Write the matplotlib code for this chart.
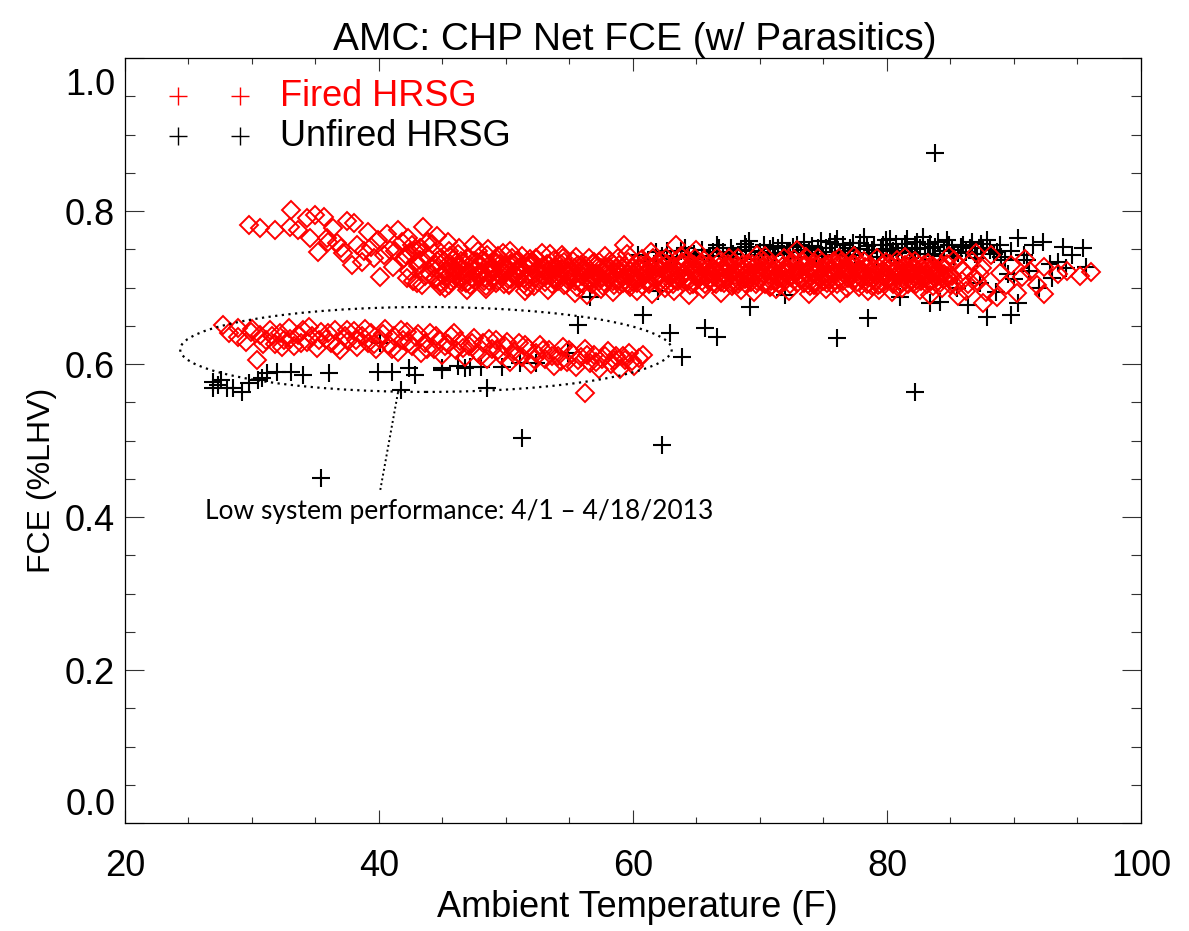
import matplotlib
matplotlib.use("Agg")
import matplotlib.pyplot as plt
from matplotlib.patches import Ellipse
from matplotlib.ticker import MultipleLocator

plt.rcParams["font.family"] = ["Liberation Sans", "DejaVu Sans"]

# ---- Fired HRSG: sparse edges of the main band (cold start-up and hot end)
fired_edge_temp = [
    29.8, 30.6, 31.8, 33.1, 33.0, 33.6, 34.3, 35.0, 35.7, 34.6, 35.2, 35.9, 36.7, 37.5,
    38.0, 36.4, 37.2, 37.9, 38.7, 39.1, 39.9, 40.1, 39.4, 40.9, 41.1, 41.5, 42.2, 43.5,
    44.6, 43.0, 36.0, 37.0, 38.3, 38.8, 40.4, 40.6, 39.6, 41.8, 42.5, 42.0, 43.2, 41.3,
    87.6, 88.2, 88.7, 88.9, 89.4, 90.2, 89.8, 90.6, 91.3, 91.8, 92.4, 92.4, 93.5, 94.2,
    95.2, 96.1, 90.9, 87.0,
]
fired_edge_fce = [
    0.782, 0.778, 0.775, 0.801, 0.779, 0.775, 0.791, 0.795, 0.792, 0.765, 0.746, 0.765, 0.758, 0.787,
    0.784, 0.778, 0.745, 0.729, 0.733, 0.773, 0.762, 0.714, 0.753, 0.749, 0.727, 0.775, 0.712, 0.779,
    0.767, 0.706, 0.760, 0.752, 0.756, 0.748, 0.742, 0.770, 0.738, 0.760, 0.745, 0.738, 0.752, 0.748,
    0.680, 0.742, 0.688, 0.719, 0.703, 0.693, 0.730, 0.714, 0.722, 0.703, 0.692, 0.727, 0.718, 0.722,
    0.715, 0.720, 0.737, 0.745,
]

# ---- Fired HRSG: main operating band
fired_band_temp = [
    42.1, 42.4, 42.6, 42.9, 42.3, 42.7, 42.8,
    43.1, 43.3, 43.6, 43.8, 43.4, 43.9, 43.2,
    44.0, 44.3, 44.5, 44.8, 44.2, 44.6, 44.9, 44.4,
    45.1, 45.3, 45.5, 45.8, 45.2, 45.6, 45.9, 45.4,
    46.0, 46.2, 46.5, 46.7, 46.3, 46.8, 46.4, 46.9,
    47.1, 47.3, 47.6, 47.8, 47.2, 47.5, 47.9, 47.4,
    48.0, 48.3, 48.5, 48.7, 48.2, 48.8, 48.4, 48.6,
    49.1, 49.3, 49.6, 49.8, 49.2, 49.5, 49.9, 49.4,
    50.0, 50.2, 50.5, 50.7, 50.3, 50.8, 50.4, 50.9,
    51.1, 51.3, 51.6, 51.8, 51.2, 51.5, 51.9, 51.4,
    52.0, 52.3, 52.5, 52.8, 52.2, 52.6, 52.9, 52.4,
    53.1, 53.4, 53.6, 53.8, 53.2, 53.5, 53.9, 53.3,
    54.0, 54.2, 54.5, 54.7, 54.3, 54.8, 54.4, 54.9,
    55.1, 55.3, 55.6, 55.8, 55.2, 55.5, 55.9, 55.4,
    56.0, 56.3, 56.5, 56.8, 56.2, 56.6, 56.9, 56.4,
    57.1, 57.3, 57.6, 57.8, 57.2, 57.5, 57.9, 57.4,
    58.0, 58.2, 58.5, 58.7, 58.3, 58.8, 58.4, 58.9,
    59.1, 59.4, 59.6, 59.8, 59.2, 59.5, 59.9, 59.3,
    60.0, 60.2, 60.5, 60.7, 60.3, 60.8, 60.4, 60.9,
    61.1, 61.3, 61.6, 61.8, 61.2, 61.5, 61.9, 61.4,
    62.0, 62.3, 62.5, 62.8, 62.2, 62.6, 62.9, 62.4,
    63.1, 63.3, 63.6, 63.8, 63.2, 63.5, 63.9, 63.4,
    64.0, 64.2, 64.5, 64.7, 64.3, 64.8, 64.4, 64.9,
    65.1, 65.4, 65.6, 65.8, 65.2, 65.5, 65.9, 65.0,
    66.0, 66.3, 66.5, 66.8, 66.2, 66.6, 66.9, 66.4,
    67.1, 67.3, 67.6, 67.8, 67.2, 67.5, 67.9, 67.4,
    68.0, 68.2, 68.5, 68.7, 68.3, 68.8, 68.4, 68.9,
    69.1, 69.3, 69.6, 69.8, 69.2, 69.5, 69.9, 69.4,
    70.0, 70.3, 70.5, 70.8, 70.2, 70.6, 70.9, 70.4,
    71.1, 71.3, 71.6, 71.8, 71.2, 71.5, 71.9, 71.4,
    72.0, 72.2, 72.5, 72.7, 72.3, 72.8, 72.4, 72.9,
    73.1, 73.4, 73.6, 73.8, 73.2, 73.5, 73.9, 73.3,
    74.0, 74.3, 74.5, 74.8, 74.2, 74.6, 74.9, 74.4,
    75.1, 75.3, 75.6, 75.8, 75.2, 75.5, 75.9, 75.4,
    76.0, 76.2, 76.5, 76.7, 76.3, 76.8, 76.4, 76.9,
    77.1, 77.3, 77.6, 77.8, 77.2, 77.5, 77.9, 77.4,
    78.0, 78.3, 78.5, 78.8, 78.2, 78.6, 78.9, 78.4,
    79.1, 79.3, 79.6, 79.8, 79.2, 79.5, 79.9, 79.4,
    80.0, 80.2, 80.5, 80.7, 80.3, 80.8, 80.4, 80.9,
    81.1, 81.3, 81.6, 81.8, 81.2, 81.5, 81.9, 81.4,
    82.0, 82.3, 82.5, 82.8, 82.2, 82.6, 82.9, 82.4,
    83.1, 83.3, 83.6, 83.8, 83.2, 83.5, 83.9, 83.4,
    84.0, 84.2, 84.5, 84.7, 84.3, 84.8, 84.4, 84.9,
    85.1, 85.4, 85.7, 85.3, 85.9, 85.6,
    86.0, 86.4, 86.7, 86.2, 86.9,
    87.1, 87.5, 87.8, 87.3,
]
fired_band_fce = [
    0.742, 0.721, 0.756, 0.733, 0.765, 0.708, 0.748,
    0.728, 0.752, 0.715, 0.741, 0.703, 0.760, 0.736,
    0.718, 0.745, 0.730, 0.702, 0.757, 0.724, 0.738, 0.711,
    0.735, 0.712, 0.748, 0.726, 0.700, 0.741, 0.718, 0.759,
    0.722, 0.744, 0.707, 0.733, 0.751, 0.716, 0.728, 0.697,
    0.739, 0.713, 0.726, 0.748, 0.703, 0.735, 0.719, 0.755,
    0.729, 0.708, 0.742, 0.717, 0.736, 0.724, 0.698, 0.750,
    0.714, 0.737, 0.722, 0.745, 0.706, 0.731, 0.719, 0.741,
    0.727, 0.703, 0.739, 0.716, 0.748, 0.723, 0.711, 0.734,
    0.718, 0.741, 0.709, 0.730, 0.724, 0.696, 0.737, 0.713,
    0.733, 0.712, 0.725, 0.745, 0.702, 0.719, 0.728, 0.738,
    0.707, 0.729, 0.716, 0.736, 0.722, 0.744, 0.711, 0.697,
    0.726, 0.714, 0.738, 0.705, 0.731, 0.720, 0.742, 0.710,
    0.719, 0.734, 0.701, 0.725, 0.712, 0.740, 0.729, 0.693,
    0.715, 0.728, 0.739, 0.704, 0.721, 0.711, 0.733, 0.690,
    0.730, 0.708, 0.722, 0.741, 0.716, 0.698, 0.727, 0.713,
    0.712, 0.735, 0.703, 0.724, 0.718, 0.738, 0.694, 0.729,
    0.726, 0.710, 0.733, 0.701, 0.719, 0.744, 0.714, 0.755,
    0.707, 0.731, 0.716, 0.737, 0.696, 0.723, 0.711, 0.728,
    0.721, 0.704, 0.738, 0.715, 0.729, 0.692, 0.725, 0.746,
    0.713, 0.734, 0.699, 0.722, 0.708, 0.739, 0.717, 0.727,
    0.728, 0.710, 0.720, 0.741, 0.695, 0.716, 0.732, 0.755,
    0.717, 0.735, 0.703, 0.724, 0.712, 0.729, 0.690, 0.738,
    0.722, 0.708, 0.736, 0.715, 0.729, 0.698, 0.719, 0.749,
    0.711, 0.726, 0.704, 0.733, 0.718, 0.740, 0.693, 0.721,
    0.725, 0.713, 0.738, 0.702, 0.719, 0.731, 0.709, 0.727,
    0.716, 0.730, 0.697, 0.723, 0.739, 0.711, 0.726, 0.705,
    0.729, 0.707, 0.720, 0.742, 0.714, 0.694, 0.733, 0.718,
    0.712, 0.735, 0.724, 0.701, 0.718, 0.730, 0.708, 0.741,
    0.721, 0.698, 0.733, 0.715, 0.727, 0.706, 0.739, 0.712,
    0.709, 0.726, 0.716, 0.737, 0.696, 0.722, 0.731, 0.749,
    0.723, 0.711, 0.740, 0.704, 0.717, 0.729, 0.692, 0.734,
    0.714, 0.732, 0.702, 0.725, 0.719, 0.738, 0.709, 0.727,
    0.728, 0.706, 0.721, 0.735, 0.698, 0.716, 0.731, 0.711,
    0.717, 0.739, 0.708, 0.726, 0.693, 0.722, 0.733, 0.713,
    0.724, 0.710, 0.736, 0.701, 0.718, 0.729, 0.714, 0.741,
    0.711, 0.727, 0.696, 0.720, 0.734, 0.706, 0.725, 0.716,
    0.722, 0.703, 0.730, 0.714, 0.738, 0.708, 0.719, 0.697,
    0.716, 0.731, 0.705, 0.723, 0.712, 0.736, 0.694, 0.727,
    0.707, 0.725, 0.718, 0.733, 0.699, 0.721, 0.711, 0.740,
    0.719, 0.704, 0.729, 0.713, 0.735, 0.697, 0.722, 0.710,
    0.712, 0.727, 0.702, 0.720, 0.732, 0.708, 0.716, 0.690,
    0.723, 0.706, 0.717, 0.731, 0.699, 0.713, 0.726, 0.741,
    0.715, 0.702, 0.728, 0.736, 0.709, 0.689,
    0.721, 0.705, 0.734, 0.696, 0.713,
    0.708, 0.726, 0.694, 0.717,
]

# ---- Fired HRSG: extra readings in the middle of the band
fired_core_temp = [
    44.15, 44.45, 44.60, 44.85, 45.20, 45.35, 45.70, 45.90,
    46.10, 46.45, 46.65, 46.85, 47.15, 47.40, 47.70, 47.95,
    48.10, 48.35, 48.65, 48.90, 49.20, 49.45, 49.60, 49.85,
    50.15, 50.35, 50.65, 50.95, 51.10, 51.45, 51.70, 51.85,
    52.15, 52.40, 52.70, 52.95, 53.20, 53.45, 53.65, 53.90,
    54.10, 54.35, 54.60, 54.85, 55.15, 55.45, 55.70, 55.95,
    56.10, 56.40, 56.65, 56.85, 57.20, 57.35, 57.70, 57.90,
    58.15, 58.45, 58.60, 58.95, 59.10, 59.40, 59.70, 59.85,
    60.15, 60.35, 60.65, 60.90, 61.20, 61.45, 61.70, 61.95,
    62.10, 62.40, 62.65, 62.85, 63.15, 63.45, 63.70, 63.90,
    64.20, 64.35, 64.60, 64.95, 65.15, 65.30, 65.70, 65.85,
    66.10, 66.45, 66.65, 66.90, 67.15, 67.40, 67.70, 67.95,
    68.10, 68.35, 68.60, 68.85, 69.20, 69.45, 69.65, 69.90,
    70.15, 70.40, 70.70, 70.95, 71.10, 71.35, 71.65, 71.85,
    72.15, 72.45, 72.60, 72.90, 73.20, 73.35, 73.70, 73.95,
    74.10, 74.40, 74.65, 74.85, 75.15, 75.45, 75.70, 75.90,
    76.10, 76.35, 76.60, 76.95, 77.20, 77.45, 77.65, 77.85,
    78.15, 78.40, 78.70, 78.95, 79.10, 79.35, 79.70, 79.90,
    80.15, 80.45, 80.60, 80.85, 81.20, 81.40, 81.65, 81.95,
    82.10, 82.35, 82.70, 82.90, 83.15, 83.45, 83.65, 83.85,
    84.20, 84.40, 84.60, 84.95,
    45.05, 45.55, 45.75, 46.25, 46.55, 46.95, 47.05, 47.45, 47.85,
    48.25, 48.45, 48.75, 49.05, 49.35, 49.75, 50.25, 50.55, 50.85,
    51.05, 51.35, 51.65, 52.05, 52.55, 52.85, 53.05, 53.55, 53.75,
    54.25, 54.55, 54.95, 55.05, 55.35, 55.85, 56.25, 56.55, 56.75,
    57.05, 57.45, 57.65, 58.05, 58.35, 58.75, 59.25, 59.55, 59.95,
    60.05, 60.45, 60.75, 61.05, 61.35, 61.75, 62.25, 62.55, 62.95,
    63.05, 63.55, 63.85, 64.05, 64.45, 64.75, 65.25, 65.45, 65.95,
    66.05, 66.35, 66.75, 67.05, 67.55, 67.85, 68.25, 68.45, 68.95,
    69.05, 69.35, 69.75, 70.05, 70.55, 70.85, 71.25, 71.55, 71.95,
    72.05, 72.35, 72.75, 73.05, 73.45, 73.85, 74.25, 74.55, 74.95,
    75.05, 75.35, 75.75, 76.25, 76.45, 76.85, 77.05, 77.35, 77.75,
    78.05, 78.55, 78.85, 79.05, 79.45, 79.75, 80.05, 80.35, 80.75,
    81.05, 81.45, 81.75, 82.05, 82.45, 82.75, 83.05, 83.35, 83.75,
    84.05, 84.35, 84.75,
]
fired_core_fce = [
    0.726, 0.713, 0.734, 0.707, 0.721, 0.730, 0.709, 0.737,
    0.714, 0.735, 0.722, 0.706, 0.729, 0.711, 0.733, 0.718,
    0.720, 0.734, 0.708, 0.727, 0.733, 0.716, 0.725, 0.704,
    0.711, 0.729, 0.719, 0.736, 0.727, 0.705, 0.733, 0.716,
    0.716, 0.737, 0.710, 0.723, 0.731, 0.718, 0.704, 0.726,
    0.709, 0.724, 0.733, 0.715, 0.722, 0.708, 0.729, 0.716,
    0.705, 0.721, 0.712, 0.731, 0.718, 0.733, 0.707, 0.724,
    0.727, 0.709, 0.720, 0.703, 0.713, 0.728, 0.705, 0.722,
    0.721, 0.706, 0.729, 0.715, 0.708, 0.724, 0.713, 0.733,
    0.726, 0.711, 0.731, 0.704, 0.705, 0.723, 0.714, 0.728,
    0.722, 0.708, 0.730, 0.716, 0.711, 0.727, 0.705, 0.723,
    0.729, 0.714, 0.722, 0.707, 0.706, 0.721, 0.716, 0.733,
    0.723, 0.709, 0.730, 0.718, 0.712, 0.726, 0.704, 0.722,
    0.727, 0.705, 0.717, 0.731, 0.709, 0.724, 0.712, 0.728,
    0.720, 0.714, 0.732, 0.706, 0.711, 0.728, 0.719, 0.702,
    0.725, 0.707, 0.715, 0.733, 0.716, 0.723, 0.704, 0.727,
    0.704, 0.729, 0.717, 0.721, 0.728, 0.711, 0.707, 0.723,
    0.719, 0.705, 0.729, 0.712, 0.710, 0.726, 0.716, 0.733,
    0.724, 0.709, 0.720, 0.701, 0.713, 0.730, 0.705, 0.726,
    0.726, 0.716, 0.708, 0.730, 0.705, 0.723, 0.728, 0.713,
    0.718, 0.711, 0.724, 0.704,
    0.716, 0.703, 0.728, 0.727, 0.711, 0.719, 0.707, 0.722, 0.714,
    0.713, 0.702, 0.731, 0.722, 0.709, 0.728, 0.705, 0.732, 0.714,
    0.712, 0.722, 0.701, 0.729, 0.707, 0.717, 0.714, 0.724, 0.710,
    0.718, 0.703, 0.727, 0.711, 0.725, 0.706, 0.724, 0.707, 0.717,
    0.711, 0.726, 0.702, 0.718, 0.732, 0.710, 0.706, 0.717, 0.725,
    0.713, 0.724, 0.703, 0.718, 0.707, 0.728, 0.705, 0.720, 0.714,
    0.719, 0.708, 0.733, 0.710, 0.726, 0.704, 0.716, 0.732, 0.709,
    0.720, 0.706, 0.727, 0.713, 0.727, 0.704, 0.704, 0.716, 0.731,
    0.719, 0.731, 0.709, 0.715, 0.722, 0.702, 0.716, 0.703, 0.720,
    0.727, 0.705, 0.717, 0.716, 0.706, 0.724, 0.703, 0.720, 0.716,
    0.709, 0.731, 0.719, 0.711, 0.724, 0.700, 0.716, 0.731, 0.720,
    0.723, 0.714, 0.702, 0.716, 0.704, 0.721, 0.713, 0.727, 0.716,
    0.719, 0.709, 0.723, 0.706, 0.722, 0.715, 0.718, 0.710, 0.724,
    0.709, 0.729, 0.715,
]

# ---- Fired HRSG: low performance period, 4/1 - 4/18/2013
fired_low_temp = [
    27.7, 28.2, 28.9, 28.9, 29.5, 29.9, 30.4, 30.6, 31.1, 31.4,
    31.8, 32.2, 32.5, 32.9, 33.3, 33.6, 34.0, 34.3, 34.7, 35.1,
    35.4, 35.8, 36.2, 36.5, 36.9, 37.3, 37.6, 38.0, 38.3, 38.7,
    39.1, 39.4, 39.8, 40.1, 40.5, 40.8, 41.2, 41.5, 41.9, 42.2,
    42.6, 42.9, 43.3, 43.6, 44.0, 44.3, 44.7, 45.0, 45.4, 45.7,
    46.1, 46.4, 46.8, 47.1, 47.5, 47.8, 48.2, 48.5, 48.9, 49.2,
    49.6, 49.9, 50.3, 50.6, 51.0, 51.3, 51.7, 52.0, 52.4, 52.7,
    53.1, 53.4, 53.8, 54.1, 54.5, 54.8, 55.2, 55.5, 55.9, 56.2,
    56.6, 56.9, 57.3, 57.6, 58.0, 58.3, 58.7, 59.0, 59.4, 59.7,
    60.1, 60.5, 60.8, 56.2,
    30.0, 30.9, 31.6, 32.4, 33.0, 33.9, 34.5, 35.3, 36.0, 36.7,
    37.5, 38.2, 38.9, 39.6, 40.3, 41.0, 41.7, 42.4, 43.1, 43.8,
    44.5, 45.2, 45.9, 46.6, 47.3, 48.0, 48.7, 49.4, 50.1, 50.8,
    51.5, 52.2, 52.9, 53.6, 54.3, 55.0, 55.7, 56.4, 57.1, 57.8,
    58.5, 59.2, 59.9,
]
fired_low_fce = [
    0.651, 0.640, 0.647, 0.635, 0.629, 0.642, 0.605, 0.638, 0.632, 0.645,
    0.626, 0.640, 0.631, 0.647, 0.624, 0.638, 0.644, 0.629, 0.636, 0.621,
    0.642, 0.633, 0.627, 0.645, 0.618, 0.637, 0.630, 0.643, 0.622, 0.636,
    0.628, 0.641, 0.619, 0.633, 0.646, 0.625, 0.637, 0.616, 0.631, 0.642,
    0.623, 0.635, 0.614, 0.628, 0.640, 0.620, 0.632, 0.612, 0.626, 0.637,
    0.618, 0.630, 0.609, 0.623, 0.634, 0.615, 0.627, 0.606, 0.620, 0.631,
    0.612, 0.624, 0.603, 0.617, 0.628, 0.609, 0.621, 0.600, 0.614, 0.625,
    0.606, 0.618, 0.598, 0.611, 0.622, 0.603, 0.615, 0.596, 0.609, 0.620,
    0.601, 0.612, 0.594, 0.606, 0.617, 0.600, 0.611, 0.593, 0.605, 0.614,
    0.598, 0.608, 0.612, 0.562,
    0.646, 0.626, 0.637, 0.622, 0.633, 0.627, 0.648, 0.631, 0.640, 0.624,
    0.644, 0.632, 0.646, 0.626, 0.639, 0.620, 0.644, 0.629, 0.639, 0.619,
    0.636, 0.623, 0.641, 0.621, 0.628, 0.611, 0.633, 0.618, 0.629, 0.611,
    0.625, 0.607, 0.618, 0.611, 0.604, 0.618, 0.605, 0.612, 0.603, 0.610,
    0.605, 0.611, 0.604,
]

# ---- Unfired HRSG
unfired_low_temp = [
    26.9, 27.6, 26.9, 28.0, 28.5, 29.2, 30.5, 30.8, 32.0, 33.1,
    34.0, 36.1, 39.9, 41.0, 42.4, 42.8, 41.7, 45.0, 45.0, 46.8,
    47.2, 48.0, 49.7, 51.1, 52.4, 54.9, 48.5, 51.3, 55.7, 35.4,
    40.1, 27.3, 29.8, 31.2, 46.2,
]
unfired_low_fce = [
    0.576, 0.579, 0.569, 0.569, 0.569, 0.563, 0.579, 0.582, 0.590, 0.590,
    0.586, 0.588, 0.590, 0.590, 0.595, 0.586, 0.566, 0.595, 0.592, 0.595,
    0.596, 0.596, 0.596, 0.601, 0.601, 0.614, 0.569, 0.503, 0.651, 0.451,
    0.627, 0.572, 0.575, 0.588, 0.598,
]
unfired_scatter_temp = [
    60.8, 62.9, 63.9, 62.3, 65.7, 66.6, 69.2, 76.1, 78.5, 82.2,
    83.8, 86.4, 87.9, 89.8, 90.3, 84.2, 83.4, 81.0, 56.6, 72.0,
    62.0,
]
unfired_scatter_fce = [
    0.664, 0.641, 0.609, 0.494, 0.647, 0.635, 0.675, 0.634, 0.660, 0.563,
    0.876, 0.677, 0.661, 0.664, 0.680, 0.681, 0.680, 0.688, 0.688, 0.690,
    0.695,
]
unfired_band_temp = [
    60.4, 61.2, 62.7, 63.5, 64.1, 64.8, 65.4, 66.0, 66.6, 67.1,
    67.7, 68.2, 68.8, 69.3, 69.9, 70.3, 70.8, 71.2, 71.7, 72.1,
    72.6, 73.0, 73.5, 73.9, 74.4, 74.8, 75.2, 75.7, 76.1, 76.5,
    76.9, 77.3, 77.8, 78.2, 78.6, 79.0, 79.5, 79.9, 80.3, 80.7,
    81.2, 81.6, 82.0, 82.4, 82.8, 83.2, 83.6, 84.0, 84.5, 84.9,
    85.3, 85.8, 86.2, 86.7, 87.1, 87.6, 87.9, 88.4, 88.9, 89.3,
    89.8, 90.3, 90.8, 91.0, 91.5, 92.3, 92.8, 93.5, 93.9, 94.6,
    95.4, 95.7,
    65.0, 66.3, 67.4, 68.5, 69.6, 70.6, 71.4, 72.4, 73.2, 74.1,
    75.0, 75.9, 76.7, 77.5, 78.4, 79.2, 80.0, 80.9, 81.8, 82.6,
    83.4, 84.2, 85.1, 86.0, 86.9, 88.1, 89.0, 61.8, 63.0, 64.4,
    66.8, 67.9, 68.9, 70.0, 71.0, 71.9, 72.9, 73.7, 74.6, 75.5,
    76.3, 77.1, 77.9, 78.8, 79.7, 80.5, 81.4, 82.2, 83.0, 83.8,
    84.7, 85.6, 86.5, 87.4, 88.7, 62.3, 63.8, 69.1, 74.9, 80.2,
    85.5, 87.3, 88.6, 90.0, 91.2, 92.0, 93.0, 94.1, 89.5,
]
unfired_band_fce = [
    0.742, 0.735, 0.748, 0.740, 0.752, 0.744, 0.749, 0.741, 0.755, 0.746,
    0.752, 0.739, 0.757, 0.748, 0.743, 0.756, 0.750, 0.742, 0.758, 0.747,
    0.753, 0.740, 0.759, 0.749, 0.744, 0.761, 0.752, 0.746, 0.763, 0.755,
    0.741, 0.758, 0.750, 0.766, 0.745, 0.756, 0.749, 0.762, 0.743, 0.757,
    0.751, 0.764, 0.746, 0.759, 0.766, 0.752, 0.744, 0.760, 0.748, 0.756,
    0.741, 0.753, 0.747, 0.759, 0.738, 0.751, 0.762, 0.744, 0.755, 0.736,
    0.748, 0.765, 0.742, 0.736, 0.755, 0.760, 0.731, 0.733, 0.753, 0.742,
    0.752, 0.727,
    0.737, 0.746, 0.740, 0.749, 0.737, 0.745, 0.751, 0.738, 0.749, 0.754,
    0.741, 0.757, 0.748, 0.743, 0.754, 0.740, 0.750, 0.745, 0.739, 0.752,
    0.757, 0.741, 0.749, 0.755, 0.744, 0.749, 0.740, 0.746, 0.737, 0.743,
    0.751, 0.744, 0.753, 0.747, 0.754, 0.744, 0.756, 0.745, 0.751, 0.760,
    0.744, 0.752, 0.758, 0.749, 0.755, 0.748, 0.757, 0.750, 0.744, 0.753,
    0.762, 0.745, 0.751, 0.757, 0.747, 0.741, 0.748, 0.761, 0.742, 0.764,
    0.700, 0.706, 0.694, 0.711, 0.722, 0.700, 0.712, 0.725, 0.718,
]

fired_temp = fired_edge_temp + fired_band_temp + fired_core_temp + fired_low_temp
fired_fce = fired_edge_fce + fired_band_fce + fired_core_fce + fired_low_fce
unfired_temp = unfired_low_temp + unfired_scatter_temp + unfired_band_temp
unfired_fce = unfired_low_fce + unfired_scatter_fce + unfired_band_fce

fig = plt.figure(figsize=(11.89, 9.31), dpi=100)
ax = fig.add_axes([0.1051, 0.1160, 0.8545, 0.8217])

ax.plot(unfired_temp, unfired_fce, ls="none", marker="+", ms=13,
        mec="black", mew=1.5, zorder=3)
ax.plot(fired_temp, fired_fce, ls="none", marker="D", ms=9,
        mfc="none", mec="#ff0000", mew=1.4, zorder=4)

# dotted ellipse + leader around the low performance period
ax.add_patch(Ellipse((43.7, 0.619), 38.7, 0.111, fill=False, color="black",
                     lw=1.6, ls=(0, (1, 2)), zorder=5))
ax.plot([41.5, 40.1], [0.563, 0.435], color="black", lw=1.4,
        ls=(0, (1, 1.5)), zorder=5)
ax.text(26.3, 0.407, "Low system performance: 4/1 \u2013 4/18/2013",
        family="Lato", fontsize=19, ha="left", va="center", zorder=6)

# legend, drawn by hand like the IDL one
ax.plot([0.0522, 0.1132], [0.950, 0.950], transform=ax.transAxes, ls="none",
        marker="+", ms=13, mec="#ff0000", mew=1.0, clip_on=False)
ax.plot([0.0522, 0.1132], [0.898, 0.898], transform=ax.transAxes, ls="none",
        marker="+", ms=13, mec="black", mew=1.0, clip_on=False)
ax.text(0.1526, 0.937, "Fired HRSG", transform=ax.transAxes, color="#ff0000",
        fontsize=26, va="baseline")
ax.text(0.1526, 0.885, "Unfired HRSG", transform=ax.transAxes, color="black",
        fontsize=26, va="baseline")

ax.set_xlim(20, 100)
ax.set_ylim(0, 1.0)
ax.set_xticks([20, 40, 60, 80, 100])
ax.xaxis.set_minor_locator(MultipleLocator(5))
ax.set_yticks([0.0, 0.2, 0.4, 0.6, 0.8, 1.0])
ax.set_yticklabels(["", "0.2", "0.4", "0.6", "0.8", ""])
ax.yaxis.set_minor_locator(MultipleLocator(0.05))

ax.tick_params(which="both", direction="in", top=True, right=True, color="#333333")
ax.tick_params(axis="x", which="major", length=9.5, width=0.8, pad=19, labelsize=26)
ax.tick_params(axis="x", which="minor", length=4.5, width=0.8)
ax.tick_params(axis="y", which="major", length=14, width=0.8, pad=7, labelsize=26)
ax.tick_params(axis="y", which="minor", length=7.5, width=0.8)
for side in ax.spines.values():
    side.set_linewidth(0.9)

# end labels sit inside the axis range
ax.annotate("0.0", xy=(0, 0.0), xycoords=ax.get_yaxis_transform(),
            xytext=(-7, 0), textcoords="offset points", ha="right", va="bottom",
            fontsize=26)
ax.annotate("1.0", xy=(0, 1.0), xycoords=ax.get_yaxis_transform(),
            xytext=(-7, -7), textcoords="offset points", ha="right", va="top",
            fontsize=26)

ax.set_xlabel("Ambient Temperature (F)", fontsize=26)
ax.xaxis.set_label_coords(0.504, -0.0876)
ax.set_ylabel("FCE (%LHV)", fontsize=23)
ax.yaxis.set_label_coords(-0.067, 0.448)
fig.text(0.534, 1 - 50 / 931, "AMC: CHP Net FCE (w/ Parasitics)",
         ha="center", va="baseline", fontsize=28)

fig.savefig("out.png", dpi=100)
